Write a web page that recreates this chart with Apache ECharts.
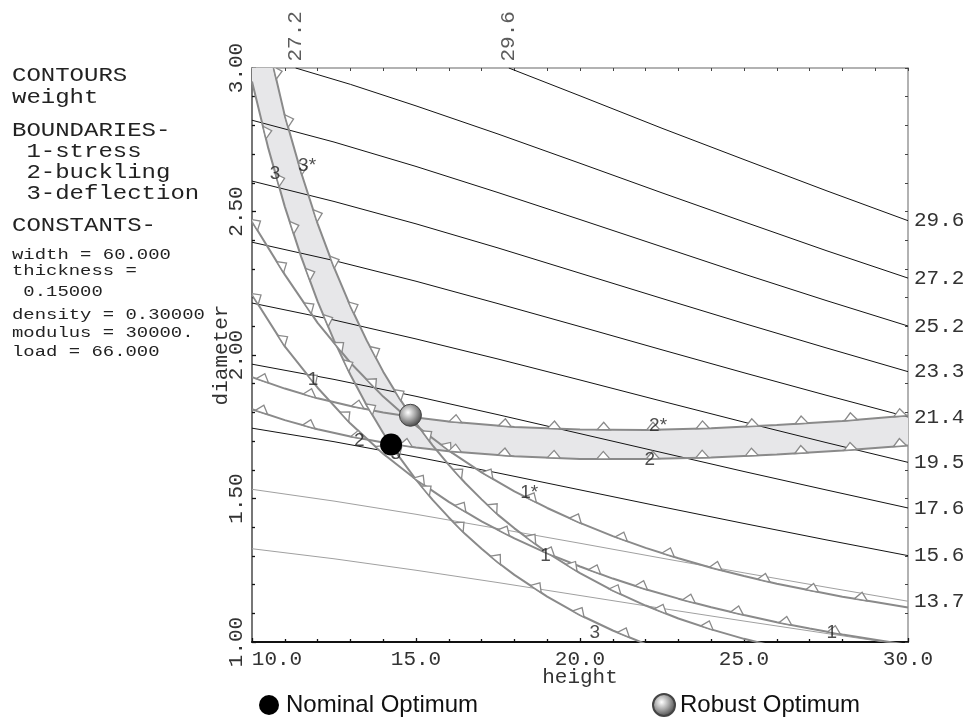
<!DOCTYPE html>
<html><head><meta charset="utf-8">
<script src="https://cdn.jsdelivr.net/npm/echarts@6/dist/echarts.min.js"></script>
<style>html,body{margin:0;padding:0;background:#fff;}#c{width:976px;height:717px;}</style>
</head><body><div id="c"></div>
<script>
// ---------- data (height H, diameter d) ----------
const xTicks = [10, 15, 20, 25, 30];
const yTicks = [1.0, 1.5, 2.0, 2.5, 3.0];

// weight contours
const contourLevels = ['29.6', '27.2', '25.2', '23.3', '21.4', '19.5', '17.6', '15.6', '13.7', ''];
const contour29_6 = [[17.83, 3.0], [20, 2.903], [22.5, 2.790], [25, 2.681], [27.5, 2.573], [30, 2.468]];
const contour27_2 = [[11.33, 3.0], [13, 2.943], [15, 2.868], [17.5, 2.770], [20, 2.668], [22.5, 2.565], [25, 2.464], [27.5, 2.364], [30, 2.268]];
const contour25_2 = [[10, 2.818], [12.5, 2.742], [15, 2.657], [17.5, 2.566], [20, 2.472], [22.5, 2.377], [25, 2.282], [27.5, 2.190], [30, 2.101]];
const contour23_3 = [[10, 2.606], [12.5, 2.535], [15, 2.457], [17.5, 2.373], [20, 2.285], [22.5, 2.197], [25, 2.110], [27.5, 2.025], [30, 1.942]];
const contour21_4 = [[10, 2.393], [12.5, 2.329], [15, 2.257], [17.5, 2.179], [20, 2.099], [22.5, 2.018], [25, 1.938], [27.5, 1.860], [30, 1.784]];
const contour19_5 = [[10, 2.181], [12.5, 2.122], [15, 2.056], [17.5, 1.986], [20, 1.913], [22.5, 1.839], [25, 1.766], [27.5, 1.695], [30, 1.626]];
const contour17_6 = [[10, 1.968], [12.5, 1.915], [15, 1.856], [17.5, 1.792], [20, 1.726], [22.5, 1.660], [25, 1.594], [27.5, 1.530], [30, 1.467]];
const contour15_6 = [[10, 1.745], [12.5, 1.698], [15, 1.645], [17.5, 1.589], [20, 1.530], [22.5, 1.471], [25, 1.413], [27.5, 1.356], [30, 1.301]];
const contour13_7 = [[10, 1.532], [12.5, 1.491], [15, 1.445], [17.5, 1.395], [20, 1.344], [22.5, 1.292], [25, 1.241], [27.5, 1.191], [30, 1.142]];
const contourLow  = [[10, 1.325], [12.5, 1.290], [15, 1.250], [17.5, 1.207], [20, 1.162], [22.5, 1.117], [25, 1.073], [27.5, 1.030], [30, 0.988]];

// boundaries
const stress = [[10, 2.21], [11, 2.030], [12, 1.886], [13, 1.761], [14, 1.656], [15, 1.566], [16, 1.488], [17, 1.420], [18, 1.361], [19, 1.309], [20, 1.263], [21, 1.221], [22, 1.184], [23, 1.151], [24, 1.121], [25, 1.094], [26, 1.069], [27, 1.047], [28, 1.026], [29, 1.008], [30, 0.990]];
const stressRobust = [[10, 2.465], [11, 2.28], [12, 2.112], [13, 1.973], [14, 1.855], [15, 1.754], [16, 1.667], [17, 1.591], [18, 1.525], [19, 1.467], [20, 1.415], [21, 1.369], [22, 1.328], [23, 1.292], [24, 1.259], [25, 1.230], [26, 1.203], [27, 1.180], [28, 1.158], [29, 1.139], [30, 1.120]];
const buckling = [[10, 1.811], [11, 1.773], [12, 1.741], [13, 1.716], [14, 1.695], [15, 1.678], [16, 1.665], [18, 1.647], [20, 1.638], [22, 1.638], [24, 1.643], [26, 1.653], [28, 1.667], [30, 1.685]];
const bucklingRobust = [[10, 1.923], [11, 1.883], [12, 1.849], [13, 1.822], [14, 1.800], [15, 1.782], [16, 1.768], [18, 1.749], [20, 1.740], [22, 1.739], [24, 1.745], [26, 1.756], [28, 1.770], [30, 1.789]];
const deflection = [[10, 2.953], [10.5, 2.719], [11, 2.517], [11.5, 2.342], [12, 2.187], [12.5, 2.051], [13, 1.931], [13.5, 1.824], [14, 1.728], [14.5, 1.643], [15, 1.566], [15.5, 1.496], [16, 1.434], [16.5, 1.376], [17, 1.325], [17.5, 1.277], [18, 1.234], [19, 1.158], [20, 1.094], [21, 1.040], [22, 0.993]];
const deflectionRobust = [[10.66, 3.0], [11, 2.834], [11.5, 2.635], [12, 2.458], [12.5, 2.305], [13, 2.170], [13.5, 2.050], [14, 1.942], [14.5, 1.848], [15, 1.763], [15.5, 1.686], [16, 1.617], [16.5, 1.554], [17, 1.497], [17.5, 1.443], [18, 1.396], [19, 1.311], [20, 1.240], [21, 1.179], [22, 1.127], [23, 1.082], [24, 1.044], [25, 1.011], [26, 0.983]];

const nominalOpt = [14.24, 1.688];
const robustOpt = [14.83, 1.790];
const bandCorner = [10, 3.0];

const curveLabels = [
  [10.70, 2.63, '3'], [11.68, 2.66, '3*'], [11.86, 1.913, '1'], [13.27, 1.700, '2'],
  [14.38, 1.655, '3'], [22.38, 1.753, '2*'], [22.13, 1.634, '2'], [18.45, 1.519, '1*'],
  [18.95, 1.300, '1'], [20.45, 1.031, '3'], [27.68, 1.031, '1']
];
const topLabels = [[11.33, 3.0, '27.2'], [17.83, 3.0, '29.6']];

const panelLines = [
  ['CONTOURS', 'big'], ['weight', 'big'], ['BOUNDARIES-', 'big'], [' 1-stress', 'big'],
  [' 2-buckling', 'big'], [' 3-deflection', 'big'], ['CONSTANTS-', 'big'],
  ['width = 60.000', 'small'], ['thickness =', 'small'], [' 0.15000', 'small'],
  ['density = 0.30000', 'small'], ['modulus = 30000.', 'small'], ['load = 66.000', 'small']
];

// ---------- chart ----------
const MONO = '"Liberation Mono", "DejaVu Sans Mono", monospace';
const SANS = '"Liberation Sans", Arial, sans-serif';
const chart = echarts.init(document.getElementById('c'), null, {renderer: 'canvas'});

const contours = [contour29_6, contour27_2, contour25_2, contour23_3, contour21_4, contour19_5, contour17_6, contour15_6, contour13_7, contourLow];

const band = [bandCorner]
  .concat(deflectionRobust.filter(p => p[0] < robustOpt[0]))
  .concat([robustOpt])
  .concat(bucklingRobust.filter(p => p[0] > robustOpt[0]))
  .concat(buckling.filter(p => p[0] > nominalOpt[0]).reverse())
  .concat([nominalOpt])
  .concat(deflection.filter(p => p[0] < nominalOpt[0]).reverse());

const series = [];
series.push({
  type: 'custom', name: 'band', z: 1, clip: true, silent: true,
  data: [bandCorner],
  renderItem: (params, api) => ({
    type: 'polygon',
    shape: {points: band.map(p => api.coord(p))},
    style: {fill: '#e7e7e9', stroke: null}
  })
});

contours.forEach((c, i) => {
  const light = i >= 8;
  series.push({
    type: 'line', name: contourLevels[i], data: c, symbol: 'none', z: 2, silent: true,
    lineStyle: {color: light ? '#a0a0a0' : '#141414', width: 1},
    endLabel: {show: contourLevels[i] !== '', formatter: contourLevels[i], distance: 6,
      fontFamily: MONO, fontSize: 21, color: '#333'}
  });
});

const boundaries = [stress, stressRobust, buckling, bucklingRobust, deflection, deflectionRobust];
boundaries.forEach((b, i) => {
  series.push({
    type: 'line', name: 'b' + i, data: b, symbol: 'none', z: 3, silent: true,
    lineStyle: {color: '#8a8a8a', width: 2}
  });
});

const SPACING = 49.5;
function triangleSeries(curve, phase) {
  return {
    type: 'custom', z: 4, silent: true, clip: true, data: [curve[0]],
    renderItem: (params, api) => {
      const pts = curve.map(p => api.coord(p));
      const cs = params.coordSys;
      const children = [];
      let acc = 0, next = phase;
      for (let i = 0; i < pts.length - 1; i++) {
        const a = pts[i], b = pts[i + 1];
        const dx = b[0] - a[0], dy = b[1] - a[1];
        const L = Math.hypot(dx, dy);
        if (L === 0) continue;
        const tx = dx / L, ty = dy / L, nx = ty, ny = -tx;
        while (next <= acc + L) {
          const s = next - acc;
          const px = a[0] + tx * s, py = a[1] + ty * s;
          if (px >= cs.x + 2 && px <= cs.x + cs.width - 1 && py >= cs.y && py <= cs.y + cs.height - 2) {
            children.push({
              type: 'polygon',
              shape: {points: [[px - tx * 6.5, py - ty * 6.5], [px + tx * 6.5, py + ty * 6.5], [px + nx * 7.5, py + ny * 7.5]]},
              style: {fill: '#ffffff', stroke: '#8a8a8a', lineWidth: 1.3}
            });
          }
          next += SPACING;
        }
        acc += L;
      }
      return {type: 'group', children};
    }
  };
}
const phases = [5, 4, 10, 11, 3, 5];
boundaries.forEach((b, i) => series.push(triangleSeries(b, phases[i])));

series.push({
  type: 'scatter', name: 'labels', z: 5, silent: true, symbolSize: 1,
  itemStyle: {color: 'rgba(0,0,0,0)'},
  data: curveLabels,
  label: {show: true, position: 'inside', formatter: p => p.value[2],
    fontFamily: SANS, fontSize: 19, color: '#222'}
});
series.push({
  type: 'scatter', name: 'topLabels', z: 5, silent: true, symbolSize: 1,
  itemStyle: {color: 'rgba(0,0,0,0)'},
  data: topLabels,
  label: {show: true, position: 'top', distance: 6, rotate: 90, align: 'left', verticalAlign: 'middle',
    formatter: p => p.value[2], fontFamily: MONO, fontSize: 21, color: '#333'}
});
series.push({
  type: 'scatter', name: 'Nominal Optimum', z: 6, symbol: 'circle', symbolSize: 22,
  itemStyle: {color: '#000', opacity: 1}, data: [nominalOpt]
});
const sphere = {type: 'radial', x: 0.4, y: 0.38, r: 0.62,
  colorStops: [{offset: 0, color: '#ffffff'}, {offset: 0.5, color: '#a8a8a8'}, {offset: 1, color: '#4a4a4a'}]};
series.push({
  type: 'scatter', name: 'Robust Optimum', z: 6, symbol: 'circle', symbolSize: 22,
  itemStyle: {color: sphere, borderColor: '#444', borderWidth: 1, opacity: 1}, data: [robustOpt]
});

const axisFont = {fontFamily: MONO, fontSize: 21, color: '#333'};

const graphics = [];
const yPos = [76, 98, 131, 152, 173, 194, 226, 255, 271, 292, 315, 333, 352];
panelLines.forEach((l, i) => {
  const big = l[1] === 'big';
  graphics.push({
    type: 'text', x: 12, y: yPos[i], scaleX: big ? 1.2 : 1.22, silent: true,
    style: {text: l[0], x: 0, y: 0, fontFamily: MONO, fontSize: big ? 20 : 15.5, fill: '#222', verticalAlign: 'middle'}
  });
});

chart.setOption({
  animation: false,
  backgroundColor: '#fff',
  grid: {left: 252, top: 68, width: 656, height: 574},
  xAxis: [{
    type: 'value', min: 10, max: 30, interval: 5, position: 'bottom',
    axisLine: {show: true, lineStyle: {color: '#111', width: 2}},
    axisTick: {show: true, inside: true, length: 4, lineStyle: {color: '#111', width: 1.3}},
    minorTick: {show: true, splitNumber: 5, length: 3, lineStyle: {color: '#111', width: 1.3}},
    splitLine: {show: false},
    axisLabel: Object.assign({margin: 7,
      formatter: v => v === xTicks[0] ? '{l|' + v.toFixed(1) + '}' : v.toFixed(1),
      rich: {l: {padding: [0, 0, 0, 50], fontFamily: MONO, fontSize: 21, color: '#333'}}}, axisFont),
    name: 'height', nameLocation: 'middle', nameGap: 25, nameMoveOverlap: false, nameTextStyle: axisFont
  }, {
    type: 'value', min: 10, max: 30, interval: 5, position: 'top',
    axisLine: {show: true, lineStyle: {color: '#999', width: 1.5}},
    axisTick: {show: true, inside: true, length: 3, lineStyle: {color: '#444'}},
    minorTick: {show: true, splitNumber: 5, length: 3, lineStyle: {color: '#444'}},
    splitLine: {show: false}, axisLabel: {show: false}
  }],
  yAxis: [{
    type: 'value', min: 1, max: 3, interval: 0.5, position: 'left',
    axisLine: {show: true, lineStyle: {color: '#777', width: 2}},
    axisTick: {show: true, inside: true, length: 4, lineStyle: {color: '#111', width: 1.3}},
    minorTick: {show: true, splitNumber: 5, length: 3, lineStyle: {color: '#111', width: 1.3}},
    splitLine: {show: false},
    axisLabel: Object.assign({rotate: 90, margin: 5, formatter: v => v.toFixed(2)}, axisFont),
    name: 'diameter', nameLocation: 'middle', nameRotate: 90, nameGap: 20, nameMoveOverlap: false,
    nameTextStyle: axisFont
  }, {
    type: 'value', min: 1, max: 3, interval: 0.5, position: 'right',
    axisLine: {show: true, lineStyle: {color: '#999', width: 1.5}},
    axisTick: {show: true, inside: true, length: 3, lineStyle: {color: '#444'}},
    minorTick: {show: true, splitNumber: 5, length: 3, lineStyle: {color: '#444'}},
    splitLine: {show: false}, axisLabel: {show: false}
  }],
  legend: [{
    data: ['Nominal Optimum'], left: 254, top: 688, itemWidth: 20, itemHeight: 22, selectedMode: false,
    textStyle: {fontFamily: SANS, fontSize: 24, color: '#111', padding: [0, 0, 0, 2]}
  }, {
    data: ['Robust Optimum'], left: 647, top: 688, itemWidth: 22, itemHeight: 22, selectedMode: false,
    textStyle: {fontFamily: SANS, fontSize: 24, color: '#111', padding: [0, 0, 0, 0]}
  }],
  graphic: graphics,
  series: series
});
</script>
</body></html>
